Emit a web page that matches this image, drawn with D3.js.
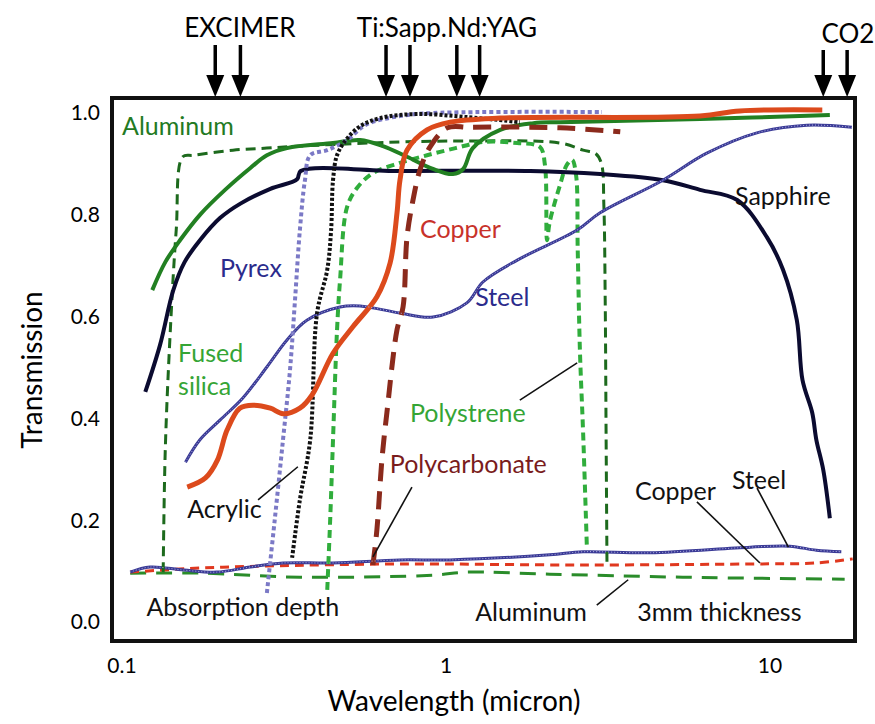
<!DOCTYPE html>
<html>
<head>
<meta charset="utf-8">
<script src="https://cdn.jsdelivr.net/npm/d3@7"></script>
<style>
  body { margin: 0; background: #fff; }
  text { font-family: Lato, 'Open Sans', sans-serif; }
</style>
</head>
<body>
<div id="chart"></div>
<script>
/* Data: [wavelength (micron), transmission] */
const sapphire = [[0.118, 0.452], [0.131, 0.544], [0.144, 0.652], [0.156, 0.707], [0.174, 0.75], [0.201, 0.794], [0.232, 0.822], [0.287, 0.851], [0.347, 0.87], [0.356, 0.886], [0.721, 0.886], [1.82, 0.886], [2.99, 0.88], [4.67, 0.868], [6.08, 0.849], [7.92, 0.829], [9.78, 0.756], [10.97, 0.692], [12.1, 0.593], [12.6, 0.475], [13.5, 0.411], [13.9, 0.358], [14.6, 0.299], [15.3, 0.204]];
const aluminum = [[0.124, 0.652], [0.136, 0.707], [0.151, 0.75], [0.174, 0.8], [0.208, 0.849], [0.249, 0.892], [0.28, 0.917], [0.323, 0.931], [0.448, 0.941], [0.543, 0.947], [0.639, 0.935], [0.758, 0.914], [0.912, 0.89], [1.05, 0.88], [1.13, 0.89], [1.21, 0.931], [1.47, 0.967], [1.86, 0.98], [2.25, 0.982], [6.08, 0.988], [15.3, 0.996]];
const copper = [[0.159, 0.265], [0.181, 0.283], [0.197, 0.318], [0.211, 0.377], [0.231, 0.42], [0.254, 0.426], [0.287, 0.42], [0.314, 0.409], [0.354, 0.42], [0.386, 0.446], [0.448, 0.528], [0.516, 0.58], [0.612, 0.639], [0.672, 0.705], [0.706, 0.804], [0.721, 0.868], [0.758, 0.927], [0.874, 0.967], [1.03, 0.982], [1.47, 0.99], [6.08, 0.994], [8.07, 1.004], [14.5, 1.006]];
const pyrex = [[0.28, 0.057], [0.296, 0.2], [0.314, 0.358], [0.33, 0.495], [0.342, 0.633], [0.354, 0.77], [0.367, 0.868], [0.381, 0.917], [0.43, 0.927], [0.495, 0.947], [0.57, 0.978], [0.721, 0.994], [0.912, 1.0], [3.03, 1.002]];
const acrylic = [[0.335, 0.126], [0.354, 0.24], [0.381, 0.358], [0.4, 0.607], [0.43, 0.692], [0.442, 0.77], [0.448, 0.868], [0.461, 0.917], [0.491, 0.947], [0.543, 0.974], [0.626, 0.99], [0.814, 0.998], [1.16, 0.992], [1.69, 0.982]];
const polycarbonate = [[0.595, 0.112], [0.612, 0.181], [0.634, 0.318], [0.657, 0.411], [0.706, 0.574], [0.737, 0.619], [0.758, 0.756], [0.791, 0.829], [0.831, 0.888], [0.892, 0.933], [1.01, 0.971], [1.19, 0.972], [2.25, 0.971], [3.45, 0.963]];
const fusedSilica = [[0.134, 0.098], [0.136, 0.338], [0.141, 0.574], [0.147, 0.77], [0.154, 0.914], [0.166, 0.917], [0.22, 0.927], [0.28, 0.931], [0.354, 0.935], [0.721, 0.943], [1.16, 0.945], [2.25, 0.941], [2.65, 0.927], [2.9, 0.92], [3.02, 0.9], [3.07, 0.82], [3.1, 0.633], [3.12, 0.363], [3.14, 0.108]];
const polystyrene = [[0.43, 0.063], [0.439, 0.2], [0.448, 0.358], [0.461, 0.574], [0.471, 0.672], [0.495, 0.815], [0.532, 0.853], [0.595, 0.882], [0.721, 0.902], [0.874, 0.917], [1.07, 0.931], [1.3, 0.943], [1.66, 0.941], [1.95, 0.933], [2.02, 0.898], [2.05, 0.75], [2.09, 0.786], [2.25, 0.859], [2.36, 0.898], [2.45, 0.908], [2.52, 0.878], [2.55, 0.731], [2.59, 0.534], [2.65, 0.371], [2.72, 0.151]];
const steel = [[0.157, 0.314], [0.174, 0.358], [0.201, 0.397], [0.236, 0.44], [0.28, 0.501], [0.323, 0.554], [0.372, 0.593], [0.471, 0.619], [0.543, 0.621], [0.721, 0.607], [0.912, 0.599], [1.16, 0.627], [1.3, 0.668], [1.66, 0.711], [2.54, 0.77], [2.99, 0.804], [4.67, 0.868], [6.38, 0.921], [9.11, 0.961], [13.0, 0.976], [17.9, 0.972]];

// absorption depth, 3mm thickness
const steelAbs = [[0.106, 0.098], [0.122, 0.108], [0.155, 0.102], [0.196, 0.098], [0.249, 0.108], [0.314, 0.116], [0.448, 0.116], [0.721, 0.122], [1.03, 0.122], [2.09, 0.132], [2.65, 0.138], [4.27, 0.136], [8.69, 0.147], [11.5, 0.149], [13.9, 0.141], [16.6, 0.138]];
const copperAbs = [[0.106, 0.098], [0.174, 0.106], [0.28, 0.11], [0.721, 0.114], [2.65, 0.112], [8.69, 0.114], [13.9, 0.116], [18.0, 0.124]];
const aluminumAbs = [[0.106, 0.096], [0.174, 0.096], [0.354, 0.088], [0.912, 0.092], [1.16, 0.098], [2.09, 0.094], [5.38, 0.088], [17.0, 0.084]];

const yTicks = [0, 0.2, 0.4, 0.6, 0.8, 1.0];
const xTicks = [0.1, 1, 10];

const laserGroups = ['EXCIMER', 'Ti:Sapp.Nd:YAG', 'CO2'];
const laserLabelAt = [0.231, 1.007, 17.4];
const laserLines = [0.194, 0.232, 0.653, 0.774, 1.08, 1.27, 14.6, 17.3];

const labelText = ['Aluminum', 'Pyrex', 'Fused', 'silica', 'Copper', 'Steel', 'Sapphire', 'Polystrene', 'Polycarbonate', 'Acrylic', 'Absorption depth', 'Aluminum', '3mm thickness', 'Copper', 'Steel'];
const labelAt = [[0.1, 0.957], [0.2005, 0.678], [0.149, 0.511], [0.149, 0.446], [0.831, 0.754], [1.23, 0.621], [7.8, 0.819], [0.774, 0.393], [0.671, 0.293], [0.159, 0.204], [0.119, 0.012], [1.23, 0.002], [3.89, 0.002], [3.83, 0.24], [7.63, 0.261]];
const labelColor = ['#237a23', '#2b2b8c', '#35a535', '#35a535', '#c8322a', '#2b2b8c', '#111', '#35a535', '#7a1c1c', '#111', '#111', '#111', '#111', '#111', '#111'];

const leaders = [[0.263, 0.24, 0.349, 0.305], [0.785, 0.265, 0.595, 0.128], [1.69, 0.436, 2.54, 0.509], [2.92, 0.033, 3.65, 0.083], [5.95, 0.236, 9.31, 0.116], [9.12, 0.263, 11.4, 0.147]];

const width = 875;
const height = 724;
const box = { left: 112, top: 98, right: 855, bottom: 641 };

const x = d3.scaleLog().domain([0.1, 10]).range([122, 770]);
const y = d3.scaleLinear().domain([0, 1]).range([622, 113]);

const svg = d3
  .select('#chart')
  .append('svg')
  .attr('width', width)
  .attr('height', height);

svg.append('rect').attr('width', width).attr('height', height).attr('fill', '#fff');

const line = d3
  .line()
  .x((d) => x(d[0]))
  .y((d) => y(d[1]))
  .curve(d3.curveCatmullRom.alpha(0.5));

// curves: [data, colour, width, dash]
const series = [
  [aluminumAbs, '#2a8c2a', 3, '16 10'],
  [copperAbs, '#e0381f', 3, '9 6'],
  [steelAbs, '#3a3a96', 3, null],
  [fusedSilica, '#1d6a1d', 3, '10 6'],
  [polystyrene, '#30ad3c', 4, '8 5'],
  [sapphire, '#0b0b30', 4, null],
  [aluminum, '#228022', 4, null],
  [steel, '#3a3a96', 3, null],
  [pyrex, '#7b79c6', 4, '4 3'],
  [acrylic, '#111', 4, '3 2'],
  [polycarbonate, '#8b2a1c', 5, '18 10'],
  [copper, '#dc4a1c', 5, null],
];

svg
  .append('g')
  .selectAll('path')
  .data(series)
  .join('path')
  .attr('d', (d) => line(d[0]))
  .attr('fill', 'none')
  .attr('stroke', (d) => d[1])
  .attr('stroke-width', (d) => d[2])
  .attr('stroke-dasharray', (d) => d[3]);

// steel texture
svg
  .append('g')
  .selectAll('path')
  .data([steel, steelAbs])
  .join('path')
  .attr('d', line)
  .attr('fill', 'none')
  .attr('stroke', '#b0b0e0')
  .attr('stroke-width', 1)
  .attr('stroke-dasharray', '1 2');

// leader lines
svg
  .append('g')
  .selectAll('line')
  .data(leaders)
  .join('line')
  .attr('x1', (d) => x(d[0]))
  .attr('y1', (d) => y(d[1]))
  .attr('x2', (d) => x(d[2]))
  .attr('y2', (d) => y(d[3]))
  .attr('stroke', '#111')
  .attr('stroke-width', 1.6);

// labels
svg
  .append('g')
  .selectAll('text')
  .data(labelText)
  .join('text')
  .attr('x', (d, i) => x(labelAt[i][0]))
  .attr('y', (d, i) => y(labelAt[i][1]))
  .attr('fill', (d, i) => labelColor[i])
  .style('font-size', '25px')
  .text((d) => d);

// frame
svg
  .append('rect')
  .attr('x', box.left)
  .attr('y', box.top)
  .attr('width', box.right - box.left)
  .attr('height', box.bottom - box.top)
  .attr('fill', 'none')
  .attr('stroke', '#111')
  .attr('stroke-width', 4);

// y tick labels
svg
  .append('g')
  .selectAll('text')
  .data(yTicks)
  .join('text')
  .attr('x', 100)
  .attr('y', (d) => y(d))
  .attr('dy', '0.35em')
  .attr('text-anchor', 'end')
  .style('font-size', '21px')
  .text(d3.format('.1f'));

// x tick labels
svg
  .append('g')
  .selectAll('text')
  .data(xTicks)
  .join('text')
  .attr('x', (d) => x(d))
  .attr('y', 673)
  .attr('text-anchor', 'middle')
  .style('font-size', '21px')
  .text((d) => d);

svg
  .append('text')
  .attr('x', 454)
  .attr('y', 711)
  .attr('text-anchor', 'middle')
  .style('font-size', '28px')
  .text('Wavelength (micron)');

svg
  .append('text')
  .attr('transform', 'translate(42,370) rotate(-90)')
  .attr('text-anchor', 'middle')
  .style('font-size', '28px')
  .text('Transmission');

// laser arrows
const arrows = svg.append('g').selectAll('g').data(laserLines).join('g');
arrows
  .append('line')
  .attr('x1', (d) => x(d))
  .attr('x2', (d) => x(d))
  .attr('y1', (d) => (d > 10 ? 50 : 45))
  .attr('y2', 80)
  .attr('stroke', '#000')
  .attr('stroke-width', 3.5);
arrows
  .append('path')
  .attr('d', (d) => `M${x(d) - 9},75L${x(d) + 9},75L${x(d)},97Z`)
  .attr('fill', '#000');

svg
  .append('g')
  .selectAll('text')
  .data(laserGroups)
  .join('text')
  .attr('x', (d, i) => x(laserLabelAt[i]))
  .attr('y', (d, i) => (i == 2 ? 43 : 37))
  .attr('text-anchor', 'middle')
  .style('font-size', '26px')
  .text((d) => d);
</script>
</body>
</html>
